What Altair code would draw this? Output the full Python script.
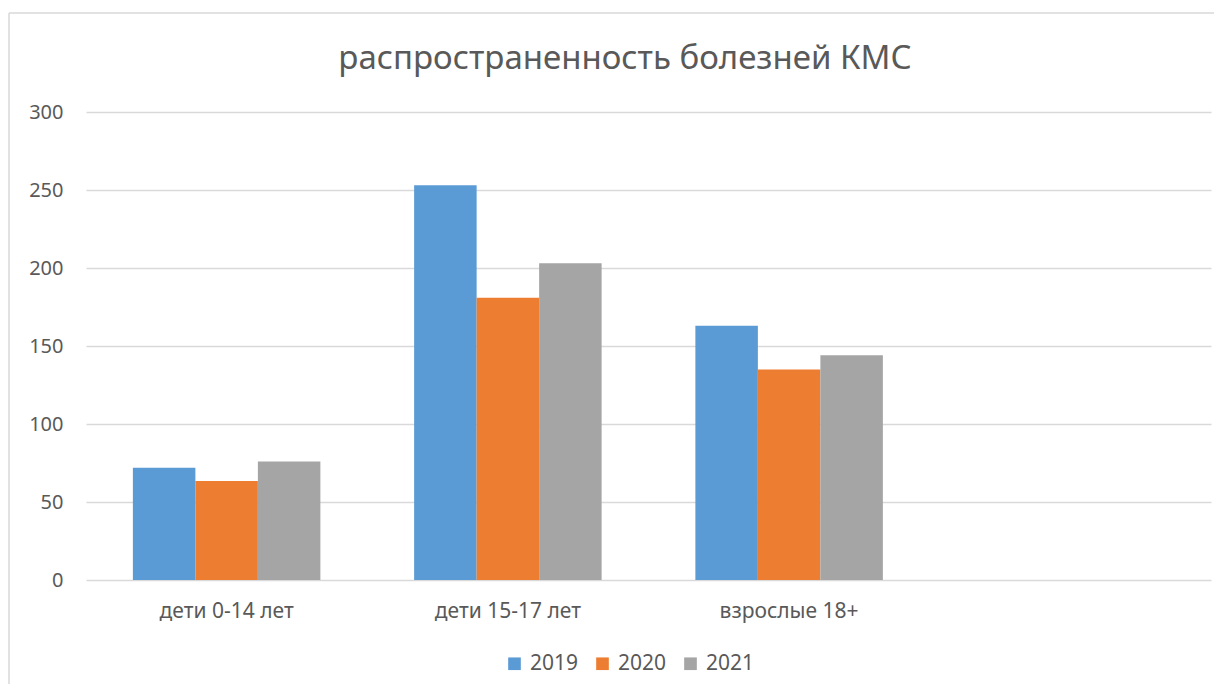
import altair as alt
import pandas as pd

title_text = "распространенность болезней КМС"
categories = ["дети 0-14 лет", "дети 15-17 лет", "взрослые 18+"]
years = ["2019", "2020", "2021"]
v2019 = [72, 253, 163]
v2020 = [63.5, 181, 135]
v2021 = [76, 203, 144]
colors = ["#5b9bd5", "#ed7d31", "#a5a5a5"]
y_ticks = [0, 50, 100, 150, 200, 250, 300]

rows = []
for yr, vals in zip(years, [v2019, v2020, v2021]):
    for c, v in zip(categories, vals):
        rows.append({"cat": c, "year": yr, "value": v})
df = pd.DataFrame(rows)

FONT = "Noto Sans"
TXT = "#595959"

bars = alt.Chart(df).mark_bar().encode(
    x=alt.X("cat:N", sort=categories,
            scale=alt.Scale(domain=categories + [""], paddingInner=0, paddingOuter=0),
            axis=alt.Axis(title=None, labelAngle=0, ticks=False, domain=False,
                          labelPadding=20, labelFontSize=21, labelColor=TXT, labelFont=FONT)),
    xOffset=alt.XOffset("year:N", sort=years,
                        scale=alt.Scale(paddingInner=0, paddingOuter=0.75)),
    y=alt.Y("value:Q", scale=alt.Scale(domain=[0, 300], nice=False),
            axis=alt.Axis(title=None, values=y_ticks, ticks=False, domain=False,
                          labelPadding=23, labelFontSize=20, labelColor=TXT, labelFont=FONT,
                          gridColor="#d9d9d9", gridWidth=1.5)),
    color=alt.Color("year:N", sort=years, scale=alt.Scale(domain=years, range=colors),
                    legend=alt.Legend(title=None, orient="none", direction="horizontal",
                                      legendX=418, legendY=541, padding=0,
                                      symbolType="square", symbolSize=160, symbolStrokeWidth=0,
                                      labelFontSize=21, labelColor=TXT, labelFont=FONT,
                                      labelOffset=5, columnPadding=13)),
)

title_df = pd.DataFrame({"t": [title_text]})
title_mark = alt.Chart(title_df).mark_text(
    font=FONT, fontSize=33, color=TXT, baseline="middle", align="center"
).encode(text="t:N", x=alt.value(539), y=alt.value(-53))

left_rule = alt.Chart(title_df).mark_rule(color="#d9d9d9", strokeWidth=1.5).encode(
    x=alt.value(-77), y=alt.value(-99), y2=alt.value(572))
top_rule = alt.Chart(title_df).mark_rule(color="#d9d9d9", strokeWidth=1.5).encode(
    x=alt.value(-77), x2=alt.value(1128), y=alt.value(-99))

chart = alt.layer(bars, title_mark, left_rule, top_rule).properties(
    width=1125, height=468,
    padding={"top": 4, "left": 0, "right": 0, "bottom": 0},
).configure_view(stroke=None)

chart.save("out.html", embed_options={"renderer": "svg", "actions": False})
